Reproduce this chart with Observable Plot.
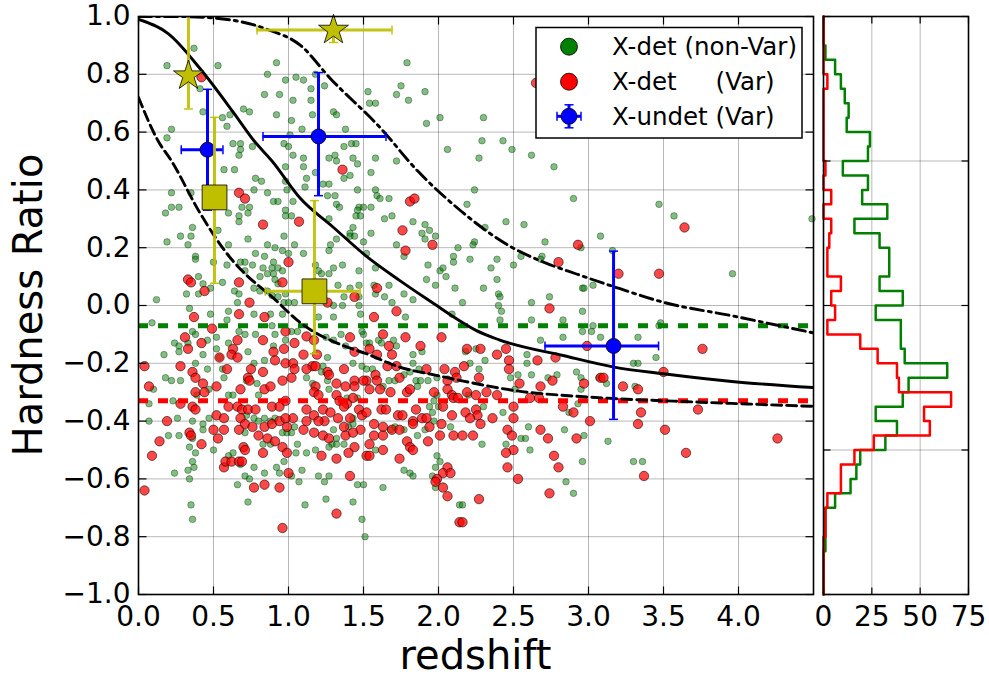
<!DOCTYPE html>
<html><head><meta charset="utf-8">
<script src="https://cdn.jsdelivr.net/npm/d3@7"></script>
<script src="https://cdn.jsdelivr.net/npm/@observablehq/plot@0.6"></script>
<style>
html,body{margin:0;padding:0;background:#fff;}
#chart{position:relative;width:989px;height:678px;overflow:hidden;background:#fff;}
#chart svg{position:absolute;left:0;top:0;}
</style></head><body><div id="chart"></div>
<script>
// ---------- data ----------
const greenPts = [
[0.37,0.89],[0.19,0.83],[0.53,0.83],[0.41,0.75],[0.43,0.67],[0.56,0.65],[0.59,0.62],[0.22,0.61],[0.19,0.58],[0.70,0.68],[0.74,0.67],[0.61,0.66],[0.86,0.80],[0.92,0.84],[0.98,0.78],[1.05,0.79],[1.10,0.78],[1.15,0.75],[1.18,0.80],[1.24,0.76],[1.03,0.71],[0.94,0.73],[0.84,0.73],[0.92,0.66],[1.02,0.64],[1.16,0.66],[1.09,0.61],[1.01,0.59],[1.15,0.71],
[1.79,0.84],[1.75,0.76],[1.72,0.73],[1.53,0.74],[1.54,0.70],[1.58,0.70],[1.80,0.71],[1.91,0.74],[2.01,0.65],[1.92,0.63],[2.30,0.65],[1.30,0.67],[1.32,0.66],[1.38,0.61],
[4.49,0.30],[3.47,0.35],[3.57,0.31],[3.96,0.11],[3.48,-0.06],
[0.63,0.56],[0.68,0.56],[0.76,0.55],[0.68,0.54],[0.67,0.52],[0.97,0.56],[1.00,0.55],[1.03,0.52],[0.57,0.47],[0.64,0.47],[0.78,0.44],[0.82,0.43],[0.98,0.48],[0.98,0.43],[0.99,0.40],[0.22,0.39],[0.35,0.39],[0.86,0.39],[0.77,0.40],[0.90,0.36],[0.93,0.36],[1.03,0.36],[0.98,0.33],[0.69,0.34],[0.74,0.34],[0.60,0.32],[0.73,0.32],[0.18,0.32],[0.22,0.34],[0.27,0.34],[0.67,0.31],[0.67,0.29],[0.98,0.31],[1.02,0.31],[0.36,0.27],[0.53,0.26],[0.28,0.24],[0.35,0.24],[0.19,0.22],[0.33,0.21],[0.60,0.21],[0.73,0.23],[0.97,0.24],[0.86,0.21],[0.91,0.20],[0.96,0.19],[1.04,0.21],[1.00,0.18],[0.78,0.18],[0.84,0.17],[0.90,0.15],[0.38,0.17],[0.38,0.16],[0.50,0.15],[0.59,0.14],[0.68,0.15],[0.71,0.15],[0.76,0.14],[0.83,0.13],[0.89,0.13],[0.93,0.13],[0.96,0.12],[0.90,0.11],[0.86,0.11],[0.40,0.10],[0.81,0.10],[0.71,0.12],[0.43,0.075],[0.56,0.08],[0.91,0.09],[0.93,0.075],[0.32,0.04],[0.40,0.04],[0.48,0.06],[0.64,0.05],[0.67,0.04],[0.77,0.06],[0.81,0.05],[0.86,0.05],[0.89,0.035],[0.98,0.04],[0.93,0.03],[0.97,0.01],[1.00,0.01],[1.04,0.01],[0.12,0.02],[0.34,-0.01],[0.48,-0.03],[0.60,-0.02],[0.66,0.01],[0.77,-0.03],[0.88,-0.03],[0.96,-0.03],[0.59,-0.05],
[1.37,0.55],[1.42,0.56],[1.45,0.56],[1.10,0.51],[1.27,0.51],[1.31,0.52],[1.32,0.50],[1.43,0.51],[1.46,0.49],[1.58,0.51],[1.72,0.50],[2.06,0.54],[1.10,0.48],[1.18,0.46],[1.41,0.45],[1.37,0.44],[1.55,0.46],[1.12,0.44],[1.11,0.41],[1.23,0.42],[1.27,0.42],[1.46,0.40],[1.58,0.40],[1.59,0.38],[1.61,0.37],[1.67,0.37],[1.26,0.38],[1.31,0.38],[1.32,0.35],[1.34,0.34],[1.47,0.34],[1.50,0.34],[1.55,0.34],[1.46,0.33],[1.45,0.31],[1.48,0.31],[1.27,0.30],[1.64,0.30],[1.69,0.31],[1.83,0.29],[1.43,0.27],[1.55,0.25],[1.41,0.25],[1.41,0.24],[1.32,0.23],[1.44,0.24],[1.50,0.22],[1.72,0.21],[1.89,0.25],[1.91,0.28],[1.94,0.26],[1.98,0.24],[1.91,0.23],[2.13,0.20],[1.28,0.21],[1.27,0.19],[1.10,0.18],[1.36,0.14],[1.30,0.13],[1.18,0.14],[1.20,0.12],[1.22,0.11],[1.27,0.11],[1.52,0.18],[1.58,0.13],[1.77,0.17],[1.47,0.12],[1.93,0.14],[2.01,0.12],[2.03,0.13],[2.10,0.17],[2.10,0.15],[2.05,0.10],[1.92,0.09],[1.98,0.07],[2.11,0.06],[1.33,0.07],[1.41,0.06],[1.47,0.07],[1.57,0.07],[1.67,0.07],[1.37,0.03],[1.47,0.03],[1.58,0.04],[1.64,0.03],[1.77,0.04],[1.83,0.02],[1.30,0.00],[1.36,0.00],[1.47,0.00],[1.48,-0.03],[1.69,0.01],[1.78,-0.04],[2.09,-0.03],[1.20,-0.04],[1.30,-0.04],
[0.09,-0.06],[0.17,-0.17],[0.24,-0.13],[0.27,-0.14],[0.27,-0.16],[0.33,-0.13],[0.38,-0.10],[0.43,-0.17],[0.36,-0.09],[0.46,-0.12],[0.52,-0.11],[0.52,-0.15],[0.54,-0.18],[0.60,-0.13],[0.67,-0.09],[0.71,-0.10],[0.78,-0.10],[0.73,-0.16],[0.77,-0.20],[0.84,-0.19],[0.90,-0.14],[0.91,-0.10],[0.89,-0.07],[0.98,-0.12],[1.02,-0.09],[1.06,-0.09],[0.38,-0.20],[0.46,-0.22],[0.56,-0.22],[0.57,-0.25],[0.18,-0.25],[0.22,-0.26],[0.28,-0.26],[0.10,-0.29],[0.07,-0.34],[0.23,-0.33],[0.47,-0.29],[0.39,-0.31],[0.60,-0.31],[0.63,-0.31],[0.80,-0.31],[0.79,-0.27],[0.72,-0.26],[0.26,-0.39],[0.36,-0.40],[0.47,-0.39],[0.43,-0.43],[0.43,-0.41],[0.07,-0.40],[0.20,-0.45],[0.27,-0.45],[0.36,-0.46],[0.34,-0.49],[0.38,-0.51],[0.50,-0.50],[0.72,-0.38],[0.77,-0.39],[0.80,-0.40],[0.84,-0.39],[0.88,-0.40],[0.91,-0.39],[0.96,-0.44],[0.99,-0.44],[1.02,-0.44],[1.04,-0.42],[1.06,-0.48],[0.88,-0.48],[0.83,-0.48],[0.71,-0.44],[0.60,-0.52],[0.63,-0.51],[0.33,-0.57],[0.37,-0.56],[0.36,-0.54],[0.24,-0.58],[0.34,-0.60],[0.68,-0.55],[0.71,-0.59],[0.74,-0.60],[0.77,-0.56],[0.84,-0.58],[0.92,-0.56],[0.94,-0.58],[0.97,-0.54],[1.05,-0.51],[1.02,-0.59],[1.07,-0.61],[0.66,-0.62],[0.73,-0.68],[0.35,-0.69],[0.36,-0.74],
[1.35,-0.10],[1.50,-0.10],[1.49,-0.09],[1.52,-0.13],[1.54,-0.13],[1.60,-0.12],[1.70,-0.12],[1.72,-0.14],[1.62,-0.13],[1.83,-0.17],[1.89,-0.16],[1.83,-0.20],[1.87,-0.22],[1.77,-0.24],[1.85,-0.26],[1.88,-0.26],[1.86,-0.28],[1.93,-0.26],[1.99,-0.25],[1.30,-0.12],[1.25,-0.11],[1.38,-0.14],[1.26,-0.18],[1.23,-0.21],[1.52,-0.22],[1.56,-0.22],[1.43,-0.20],[1.49,-0.21],[1.81,-0.23],[1.12,-0.25],[1.22,-0.23],[1.26,-0.26],[1.27,-0.29],[1.16,-0.27],[1.63,-0.28],[1.67,-0.26],[1.71,-0.26],[1.97,-0.33],[1.99,-0.31],[1.94,-0.35],[1.96,-0.37],[2.00,-0.35],[1.39,-0.32],[1.46,-0.32],[1.43,-0.39],[1.43,-0.41],[1.40,-0.42],[1.30,-0.43],[1.32,-0.46],[1.29,-0.48],[1.27,-0.49],[1.32,-0.48],[1.37,-0.48],[1.68,-0.43],[1.71,-0.42],[1.77,-0.43],[1.86,-0.45],[1.97,-0.40],[1.91,-0.43],[2.08,-0.42],[1.12,-0.51],[1.18,-0.50],[1.09,-0.57],[1.58,-0.50],[1.99,-0.52],[2.01,-0.54],[1.98,-0.56],[1.77,-0.57],[1.81,-0.58],[1.83,-0.59],[1.20,-0.59],[1.27,-0.59],[1.24,-0.61],[1.46,-0.62],[1.50,-0.62],[1.63,-0.63],[1.96,-0.59],[1.98,-0.63],[1.11,-0.69],[1.25,-0.67],[1.43,-0.68],[1.49,-0.74],[1.51,-0.80],[2.14,-0.69],
[2.29,0.57],[2.43,0.57],[2.49,0.54],[2.27,0.51],[2.62,0.52],[2.77,0.48],[2.24,0.40],[2.90,0.37],[2.19,0.35],[2.45,0.29],[2.57,0.28],[2.31,0.27],[2.24,0.22],[2.23,0.21],[2.71,0.22],[2.21,0.16],[2.39,0.16],[2.35,0.13],[2.50,0.14],[2.55,0.17],[2.69,0.17],[2.68,0.16],[2.39,0.09],[2.30,0.06],[2.40,0.04],[2.41,0.03],[2.62,0.01],[2.74,0.03],[2.16,0.01],[2.96,0.06],[2.97,0.06],[3.03,0.07],[2.40,0.00],[2.42,-0.02],[2.96,-0.02],[3.08,0.24],[2.95,0.20],[3.16,0.19],[2.62,-0.05],[2.83,-0.05],[2.41,-0.05],[3.03,-0.07],
[2.68,-0.12],[2.83,-0.11],[2.96,-0.09],[3.02,-0.09],[3.08,-0.11],[2.59,-0.17],[2.59,-0.20],[2.18,-0.16],[2.25,-0.15],[2.31,-0.19],[2.27,-0.22],[2.21,-0.20],[2.53,-0.24],[2.62,-0.24],[2.48,-0.25],[2.51,-0.29],[2.73,-0.25],[2.79,-0.24],[2.92,-0.23],[2.95,-0.25],[3.12,-0.27],[3.07,-0.25],[2.95,-0.29],[2.20,-0.31],[2.30,-0.35],[2.43,-0.37],[2.93,-0.34],[2.87,-0.37],[2.60,-0.42],[2.55,-0.46],[2.58,-0.46],[2.84,-0.43],[2.97,-0.45],[3.13,-0.47],[2.29,-0.48],[2.61,-0.50],[2.45,-0.48],[2.96,-0.54],[2.85,-0.61],[2.90,-0.65],[2.16,-0.69],
[3.33,-0.11],[3.45,-0.18],[3.30,-0.20],[3.33,-0.20],[3.30,-0.54],[3.36,-0.54],[3.47,-0.07],[3.31,-0.28]
];
const redPts = [
[0.42,0.79],[2.65,0.77],[3.64,0.27],[3.47,0.11],
[0.67,0.39],[0.71,0.37],[0.83,0.28],[1.00,0.15],[0.33,0.09],[0.35,0.08],[0.44,0.05],[0.67,0.08],[0.96,0.08],[0.74,0.01],[0.67,-0.03],[0.37,-0.04],[0.84,-0.04],[1.07,0.29],
[1.36,0.47],[1.81,0.36],[1.84,0.37],[1.76,0.26],[1.96,0.21],[1.78,0.19],[1.59,0.06],[1.44,0.03],[1.26,0.01],[1.72,-0.02],[1.57,-0.04],
[0.49,-0.08],[0.31,-0.11],[0.42,-0.13],[0.33,-0.15],[0.66,-0.12],[0.63,-0.15],[0.62,-0.17],[0.66,-0.18],[0.54,-0.18],[0.83,-0.12],[0.90,-0.16],[0.98,-0.09],[1.04,-0.13],[0.97,-0.15],[0.28,-0.21],[0.36,-0.23],[0.59,-0.22],[0.75,-0.22],[0.83,-0.23],[0.91,-0.19],[0.98,-0.20],[1.03,-0.20],[0.04,-0.21],[0.38,-0.25],[0.43,-0.27],[0.52,-0.28],[0.73,-0.25],[0.74,-0.26],[0.68,-0.29],[0.84,-0.29],[0.88,-0.28],[0.96,-0.26],[1.02,-0.25],[1.04,-0.22],[0.07,-0.28],[0.38,-0.30],[0.44,-0.30],[0.28,-0.34],[0.36,-0.35],[0.38,-0.36],[0.60,-0.35],[0.66,-0.35],[0.69,-0.36],[0.73,-0.36],[0.78,-0.36],[0.89,-0.35],[0.94,-0.35],[0.98,-0.33],[0.52,-0.38],[0.57,-0.39],[0.68,-0.39],[0.71,-0.41],[0.76,-0.42],[0.84,-0.42],[0.89,-0.41],[0.94,-0.40],[0.99,-0.42],[1.03,-0.39],[0.98,-0.39],[0.19,-0.40],[0.34,-0.44],[0.35,-0.45],[0.50,-0.43],[0.57,-0.43],[0.67,-0.43],[0.80,-0.45],[0.86,-0.46],[0.91,-0.47],[0.96,-0.49],[0.99,-0.51],[0.83,-0.51],[0.14,-0.47],[0.53,-0.46],[0.42,-0.48],[0.70,-0.49],[0.71,-0.50],[0.09,-0.52],[0.57,-0.56],[0.58,-0.54],[0.62,-0.54],[0.67,-0.54],[0.69,-0.54],[1.00,-0.58],[0.77,-0.63],[0.84,-0.62],[0.94,-0.63],[0.04,-0.64],[0.96,-0.77],
[1.12,-0.107],[1.17,-0.12],[1.41,-0.11],[1.63,-0.10],[1.78,-0.11],[1.67,-0.14],[1.88,-0.14],[2.02,-0.11],[1.54,-0.15],[1.69,-0.17],[1.59,-0.17],[1.44,-0.16],[1.10,-0.17],[1.19,-0.17],[1.16,-0.21],[1.18,-0.21],[1.12,-0.22],[1.26,-0.23],[1.27,-0.24],[1.37,-0.22],[1.58,-0.24],[1.66,-0.21],[1.72,-0.21],[1.74,-0.25],[1.92,-0.22],[2.04,-0.22],[2.11,-0.23],[2.06,-0.26],[2.12,-0.25],[1.52,-0.26],[1.44,-0.26],[1.44,-0.28],[1.50,-0.26],[1.59,-0.26],[1.32,-0.27],[1.38,-0.28],[1.18,-0.28],[1.17,-0.30],[1.20,-0.31],[1.54,-0.29],[1.61,-0.29],[1.68,-0.30],[1.79,-0.30],[1.81,-0.29],[1.97,-0.30],[2.06,-0.29],[2.09,-0.31],[2.10,-0.32],[1.32,-0.31],[1.34,-0.33],[1.43,-0.32],[1.12,-0.36],[1.17,-0.38],[1.23,-0.36],[1.28,-0.37],[1.33,-0.39],[1.24,-0.40],[1.20,-0.40],[1.12,-0.40],[1.39,-0.34],[1.37,-0.35],[1.47,-0.36],[1.49,-0.38],[1.52,-0.37],[1.41,-0.39],[1.62,-0.36],[1.65,-0.36],[1.73,-0.38],[1.76,-0.38],[1.85,-0.36],[1.83,-0.40],[1.89,-0.39],[1.92,-0.39],[2.03,-0.35],[2.09,-0.38],[2.13,-0.32],[1.37,-0.42],[1.48,-0.43],[1.57,-0.41],[1.63,-0.42],[1.69,-0.43],[1.74,-0.43],[1.83,-0.41],[1.94,-0.42],[2.02,-0.41],[1.10,-0.43],[1.17,-0.44],[1.23,-0.45],[1.27,-0.46],[1.38,-0.45],[1.43,-0.44],[1.57,-0.45],[1.63,-0.45],[1.79,-0.47],[1.81,-0.49],[1.83,-0.50],[1.93,-0.47],[2.01,-0.45],[2.10,-0.45],[1.44,-0.49],[1.54,-0.48],[1.63,-0.50],[1.40,-0.51],[1.52,-0.52],[1.54,-0.52],[1.74,-0.53],[1.22,-0.52],[1.32,-0.53],[1.41,-0.59],[2.06,-0.56],[2.03,-0.58],[2.08,-0.58],[1.99,-0.60],[1.98,-0.61],[2.03,-0.63],[2.06,-0.66],[1.32,-0.72],[2.14,-0.75],
[2.93,0.21],[2.80,0.15],[2.74,-0.01],[3.20,0.11],
[2.19,-0.15],[2.28,-0.15],[2.39,-0.17],[2.45,-0.15],[2.47,-0.19],[2.47,-0.22],[2.66,-0.19],[2.78,-0.18],[2.99,-0.14],[3.08,-0.25],[3.10,-0.25],[2.97,-0.27],[2.76,-0.26],[2.68,-0.28],[2.54,-0.27],[2.39,-0.31],[2.32,-0.30],[2.25,-0.31],[2.17,-0.21],[2.27,-0.25],[2.19,-0.30],[2.61,-0.32],[2.67,-0.32],[2.50,-0.35],[2.50,-0.39],[2.36,-0.39],[2.25,-0.36],[2.26,-0.38],[2.18,-0.37],[2.21,-0.39],[2.28,-0.41],[2.83,-0.35],[2.90,-0.37],[3.01,-0.40],[2.46,-0.43],[2.49,-0.45],[2.68,-0.43],[2.73,-0.46],[2.92,-0.46],[2.23,-0.45],[2.16,-0.45],[2.50,-0.50],[2.45,-0.51],[2.77,-0.52],[2.80,-0.56],[2.46,-0.56],[2.53,-0.60],[2.74,-0.65],[2.27,-0.67],[2.16,-0.75],
[3.76,-0.15],[3.50,-0.23],[3.35,-0.37],[3.33,-0.41],[3.51,-0.43],[3.73,-0.36],[3.65,-0.51],[4.26,-0.46],[3.37,-0.59],[3.23,-0.28],[3.33,-0.29]
];
// model curves
const solidCurve = [[0,0.99],[0.2,0.94],[0.41,0.82],[0.63,0.67],[0.77,0.57],[0.89,0.50],[1.08,0.37],[1.30,0.27],[1.52,0.17],[1.74,0.087],[1.97,0.006],[2.12,-0.046],[2.25,-0.086],[2.40,-0.118],[2.83,-0.173],[3.17,-0.213],[3.50,-0.236],[3.94,-0.262],[4.5,-0.284]];
const dashedCurve = [[0,0.72],[0.13,0.57],[0.22,0.50],[0.41,0.32],[0.62,0.16],[0.71,0.11],[0.89,0.03],[1.08,-0.06],[1.37,-0.14],[1.52,-0.167],[1.74,-0.213],[1.97,-0.24],[2.15,-0.26],[2.59,-0.30],[2.81,-0.31],[3.17,-0.322],[3.72,-0.334],[4.5,-0.349]];
const dashDotCurve = [[0,1.0],[0.25,1.0],[0.5,0.995],[0.86,0.955],[1.08,0.90],[1.28,0.785],[1.61,0.616],[1.86,0.466],[2.12,0.34],[2.48,0.204],[2.70,0.15],[2.92,0.109],[3.21,0.058],[3.50,0.011],[3.95,-0.035],[4.5,-0.095]];
const greenMedianHR = -0.07;
const redMedianHR = -0.33;
// yellow stars / squares and blue circles with error bars
const starZ = [0.333, 1.30], starHR = [0.795, 0.953];
const starHRLow = [0.68, 0.91], starHRHigh = [1.10, 1.10];
const starZLow = [0.333, 0.79], starZHigh = [0.333, 1.69];
const squareZ = [0.507, 1.173], squareHR = [0.374, 0.049];
const squareHRLow = [0.077, -0.167], squareHRHigh = [0.651, 0.363];
const squareZLow = [0.507, 0.845], squareZHigh = [0.507, 1.478];
const blueZ = [0.46, 1.20, 3.167], blueHR = [0.539, 0.585, -0.14];
const blueHRLow = [0.33, 0.38, -0.394], blueHRHigh = [0.748, 0.806, 0.188];
const blueZLow = [0.285, 0.83, 2.71], blueZHigh = [0.563, 1.65, 3.467];
// histograms: counts per 0.05 bin of hardness ratio from -1.0 upward
const histLow = -1.0, histWidth = 0.05;
const greenCounts = [0,0,0,1,1,1,6,14,17,19,32,38,27,41,44,64,42,40,40,27,41,29,34,34,29,16,33,20,23,10,23,24,12,13,11,9,6,1,0,0];
const redCounts   = [0,0,0,0,1,1,2,9,9,16,26,55,52,66,39,38,28,19,2,6,4,9,2,2,3,4,0,4,0,1,0,0,0,0,0,2,0,0,0,0];
// ticks and labels
const xTicksMain = [0,0.5,1.0,1.5,2.0,2.5,3.0,3.5,4.0];
const yTicks = [-1.0,-0.8,-0.6,-0.4,-0.2,0.0,0.2,0.4,0.6,0.8,1.0];
const xTicksHist = [0,25,50,75];
const yTicksHist = [-1.0,-0.5,0.0,0.5,1.0];
const legendLabels = ["X-det (non-Var)", "X-det     (Var)", "X-undet (Var)"];
const xLabel = "redshift", yLabel = "Hardness Ratio";

// ---------- drawing ----------
const W = 989, H = 678;
const FONT = "DejaVu Sans";
const TICKFS = 28;
const GREEN = "#008000", RED = "#ff0000", BLUE = "#0000ff", YEL = "#bfbf00";
const baseStyle = {fontFamily: FONT, fontSize: TICKFS + "px", background: "transparent", color: "black", overflow: "visible"};
const gridOpts = {stroke: "#000", strokeOpacity: 0.28, strokeWidth: 1};
const fmt1 = d3.format(".1f");

const sym = (fn) => ({draw(ctx) { fn(ctx); }});
const tickUp = sym(c => { c.moveTo(0, 0); c.lineTo(0, -8); });
const tickDown = sym(c => { c.moveTo(0, 0); c.lineTo(0, 8); });
const tickRight = sym(c => { c.moveTo(0, 0); c.lineTo(8, 0); });
const tickLeft = sym(c => { c.moveTo(0, 0); c.lineTo(-8, 0); });
const hTickUp = sym(c => { c.moveTo(0, 0); c.lineTo(0, -7); });
const hTickDown = sym(c => { c.moveTo(0, 0); c.lineTo(0, 7); });
const hTickRight = sym(c => { c.moveTo(0, 0); c.lineTo(7, 0); });
const hTickLeft = sym(c => { c.moveTo(0, 0); c.lineTo(-7, 0); });
const capH = sym(c => { c.moveTo(-4.5, 0); c.lineTo(4.5, 0); });
const capV = sym(c => { c.moveTo(0, -4.5); c.lineTo(0, 4.5); });

function rows(Z, HR, lo, hi, zlo, zhi) {
  return Z.map((z, i) => ({z, h: HR[i], hlo: lo[i], hhi: hi[i], zlo: zlo[i], zhi: zhi[i]}));
}
const stars = rows(starZ, starHR, starHRLow, starHRHigh, starZLow, starZHigh);
const squares = rows(squareZ, squareHR, squareHRLow, squareHRHigh, squareZLow, squareZHigh);
const blues = rows(blueZ, blueHR, blueHRLow, blueHRHigh, blueZLow, blueZHigh);

function errorMarks(data, color, opacity) {
  const withX = data.filter(d => d.zhi > d.zlo);
  const yCaps = data.flatMap(d => [{z: d.z, h: d.hlo}, {z: d.z, h: d.hhi}]);
  const xCaps = withX.flatMap(d => [{z: d.zlo, h: d.h}, {z: d.zhi, h: d.h}]);
  const o = {stroke: color, strokeOpacity: opacity, clip: true};
  return [
    Plot.ruleX(data, {x: "z", y1: "hlo", y2: "hhi", strokeWidth: 3, ...o}),
    Plot.ruleY(withX, {y: "h", x1: "zlo", x2: "zhi", strokeWidth: 3, ...o}),
    Plot.dot(yCaps, {x: "z", y: "h", symbol: capH, fill: "none", strokeWidth: 1.5, r: 3, ...o}),
    Plot.dot(xCaps, {x: "z", y: "h", symbol: capV, fill: "none", strokeWidth: 1.5, r: 3, ...o})
  ];
}
const tickTextX = (ticks, format) => Plot.text(ticks, {x: d => d, frameAnchor: "bottom", text: format, lineAnchor: "top", dy: 12, fontSize: TICKFS, fontFamily: FONT, fill: "black"});
const tickTextY = (ticks, format) => Plot.text(ticks, {y: d => d, frameAnchor: "left", text: format, textAnchor: "end", dx: -8, fontSize: TICKFS, fontFamily: FONT, fill: "black"});

const main = Plot.plot({
  width: W, height: H,
  marginLeft: 138, marginRight: W - 813, marginTop: 16, marginBottom: H - 594,
  x: {domain: [0, 4.5], axis: null},
  y: {domain: [-1, 1], axis: null},
  style: baseStyle,
  marks: [
    Plot.gridX(xTicksMain.slice(1), gridOpts),
    Plot.gridY(yTicks.slice(1, -1), gridOpts),
    Plot.dot(greenPts, {x: d => d[0], y: d => d[1], r: 3.3, fill: GREEN, fillOpacity: 0.5, stroke: "#000", strokeOpacity: 0.45, strokeWidth: 0.7}),
    Plot.dot(redPts, {x: d => d[0], y: d => d[1], r: 4.7, fill: RED, fillOpacity: 0.72, stroke: "#000", strokeOpacity: 0.7, strokeWidth: 0.8}),
    Plot.ruleY([greenMedianHR], {stroke: GREEN, strokeWidth: 5, strokeDasharray: "10,10"}),
    Plot.ruleY([redMedianHR], {stroke: RED, strokeWidth: 5, strokeDasharray: "10,10"}),
    Plot.line(solidCurve, {x: d => d[0], y: d => d[1], stroke: "black", strokeWidth: 2.9, curve: "monotone-x", clip: true}),
    Plot.line(dashedCurve, {x: d => d[0], y: d => d[1], stroke: "black", strokeWidth: 2.9, strokeDasharray: "10,5", curve: "monotone-x", clip: true}),
    Plot.line(dashDotCurve, {x: d => d[0], y: d => d[1], stroke: "black", strokeWidth: 2.9, strokeDasharray: "13,5,3,5", curve: "monotone-x", clip: true}),
    ...errorMarks(blues, BLUE, 1),
    Plot.dot(blues, {x: "z", y: "h", r: 7.5, fill: BLUE, stroke: "black", strokeWidth: 0.8}),
    ...errorMarks(stars, YEL, 0.92),
    ...errorMarks(squares, YEL, 0.92),
    Plot.dot(stars, {x: "z", y: "h", r: 9.4, symbol: "star", fill: YEL, stroke: "black", strokeWidth: 0.8}),
    Plot.dot(squares, {x: "z", y: "h", r: 14, symbol: "square", fill: YEL, stroke: "black", strokeWidth: 0.8}),
    tickTextX(xTicksMain, fmt1),
    tickTextY(yTicks, fmt1),
    Plot.dot(xTicksMain, {x: d => d, frameAnchor: "bottom", symbol: tickUp, stroke: "black", strokeWidth: 1.2, fill: "none", r: 3}),
    Plot.dot(xTicksMain, {x: d => d, frameAnchor: "top", symbol: tickDown, stroke: "black", strokeWidth: 1.2, fill: "none", r: 3}),
    Plot.dot(yTicks, {y: d => d, frameAnchor: "left", symbol: tickRight, stroke: "black", strokeWidth: 1.2, fill: "none", r: 3}),
    Plot.dot(yTicks, {y: d => d, frameAnchor: "right", symbol: tickLeft, stroke: "black", strokeWidth: 1.2, fill: "none", r: 3}),
    Plot.frame({stroke: "black", strokeWidth: 1.6})
  ]
});

function stepPoints(counts) {
  const pts = [{c: 0, e: histLow}];
  counts.forEach((c, i) => {
    const lo = histLow + i * histWidth;
    pts.push({c, e: lo}, {c, e: lo + histWidth});
  });
  pts.push({c: 0, e: histLow + counts.length * histWidth});
  return pts;
}

const hist = Plot.plot({
  width: W, height: H,
  marginLeft: 823, marginRight: W - 968, marginTop: 16, marginBottom: H - 594,
  x: {domain: [0, 75], axis: null},
  y: {domain: [-1, 1], axis: null},
  style: baseStyle,
  marks: [
    Plot.gridX(xTicksHist.slice(1, -1), gridOpts),
    Plot.gridY(yTicksHist.slice(1, -1), gridOpts),
    Plot.line(stepPoints(greenCounts), {x: "c", y: "e", stroke: GREEN, strokeWidth: 2.5}),
    Plot.line(stepPoints(redCounts), {x: "c", y: "e", stroke: RED, strokeWidth: 2.5}),
    tickTextX(xTicksHist, d3.format("d")),
    Plot.dot(xTicksHist, {x: d => d, frameAnchor: "bottom", symbol: hTickUp, stroke: "black", strokeWidth: 1.2, fill: "none", r: 3}),
    Plot.dot(xTicksHist, {x: d => d, frameAnchor: "top", symbol: hTickDown, stroke: "black", strokeWidth: 1.2, fill: "none", r: 3}),
    Plot.dot(yTicksHist, {y: d => d, frameAnchor: "left", symbol: hTickRight, stroke: "black", strokeWidth: 1.2, fill: "none", r: 3}),
    Plot.dot(yTicksHist, {y: d => d, frameAnchor: "right", symbol: hTickLeft, stroke: "black", strokeWidth: 1.2, fill: "none", r: 3}),
    Plot.frame({stroke: "black", strokeWidth: 1.6})
  ]
});

const chart = document.getElementById("chart");
chart.appendChild(main);
chart.appendChild(hist);

// axis titles
const s = d3.select(main);
s.append("text").attr("x", 475.5).attr("y", 669).attr("text-anchor", "middle")
  .attr("font-family", FONT).attr("font-size", 40).attr("fill", "black").text(xLabel);
s.append("text").attr("transform", "translate(42,305) rotate(-90)").attr("text-anchor", "middle")
  .attr("font-family", FONT).attr("font-size", 40).attr("fill", "black").text(yLabel);

// legend
const lg = s.append("g").attr("font-family", FONT).attr("font-size", 24.5).attr("text-anchor", "start");
lg.append("rect").attr("x", 536).attr("y", 27.5).attr("width", 266).attr("height", 110.5)
  .attr("fill", "white").attr("stroke", "black").attr("stroke-width", 1.5);
const rowY = [46.7, 81.7, 116.3];
lg.append("circle").attr("cx", 569).attr("cy", rowY[0]).attr("r", 8.5).attr("fill", GREEN).attr("stroke", "black").attr("stroke-width", 0.8);
lg.append("circle").attr("cx", 569).attr("cy", rowY[1]).attr("r", 8.5).attr("fill", RED).attr("stroke", "black").attr("stroke-width", 0.8);
const by = rowY[2];
lg.append("line").attr("x1", 557).attr("x2", 581).attr("y1", by).attr("y2", by).attr("stroke", BLUE).attr("stroke-width", 3);
lg.append("line").attr("x1", 569).attr("x2", 569).attr("y1", by - 11.5).attr("y2", by + 11.5).attr("stroke", BLUE).attr("stroke-width", 3);
lg.append("line").attr("x1", 557).attr("x2", 557).attr("y1", by - 4.5).attr("y2", by + 4.5).attr("stroke", BLUE).attr("stroke-width", 1.5);
lg.append("line").attr("x1", 581).attr("x2", 581).attr("y1", by - 4.5).attr("y2", by + 4.5).attr("stroke", BLUE).attr("stroke-width", 1.5);
lg.append("line").attr("x1", 564.5).attr("x2", 573.5).attr("y1", by - 11.5).attr("y2", by - 11.5).attr("stroke", BLUE).attr("stroke-width", 1.5);
lg.append("line").attr("x1", 564.5).attr("x2", 573.5).attr("y1", by + 11.5).attr("y2", by + 11.5).attr("stroke", BLUE).attr("stroke-width", 1.5);
lg.append("circle").attr("cx", 569).attr("cy", by).attr("r", 8).attr("fill", BLUE).attr("stroke", "black").attr("stroke-width", 0.8);
legendLabels.forEach((t, i) => {
  lg.append("text").attr("x", 612).attr("y", rowY[i] + 8.5).attr("fill", "black")
    .style("white-space", "pre").attr("xml:space", "preserve").text(t);
});
</script></body></html>
